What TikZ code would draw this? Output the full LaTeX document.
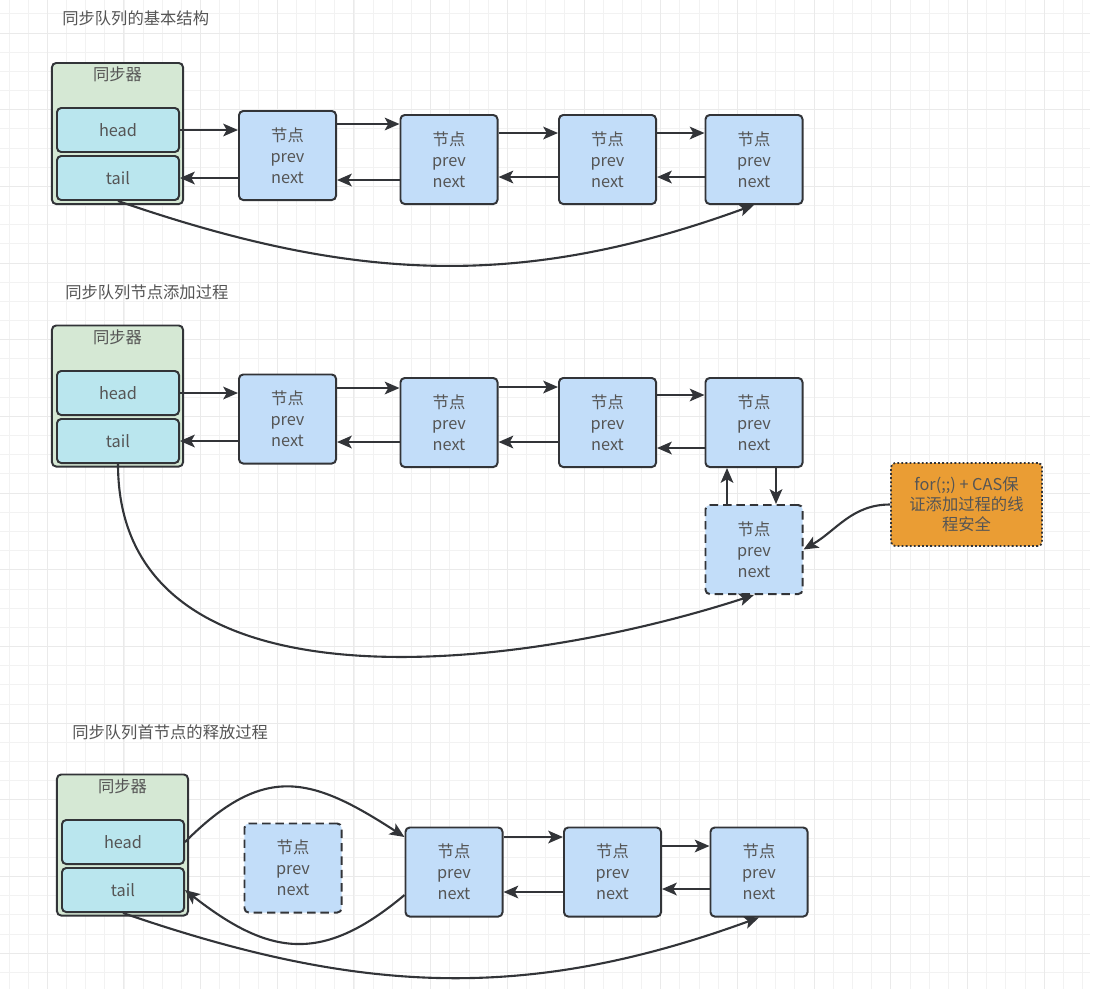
\documentclass[tikz,border=0pt]{standalone}
\usepackage{fontspec}
\setmainfont{Noto Sans CJK SC}
\usepackage{xcolor}
\usepackage{tikz}
\usetikzlibrary{arrows.meta, positioning, calc}
\definecolor{lineGray}{RGB}{50, 52, 56}
\definecolor{textGray}{RGB}{85, 85, 85}
\definecolor{syncGreen}{RGB}{213, 232, 212}
\definecolor{fieldCyan}{RGB}{186, 230, 238}
\definecolor{nodeBlue}{RGB}{194, 221, 249}
\definecolor{noteOrange}{RGB}{234, 157, 52}
\definecolor{gridMinor}{RGB}{242, 242, 242}
\definecolor{gridMajor}{RGB}{234, 234, 234}

\begin{document}
\begin{tikzpicture}[x=0.025cm, y=-0.025cm,
    font=\fontsize{11.6pt}{15pt}\selectfont, text=textGray,
    box/.style={draw=lineGray, line width=1.4pt, rounded corners=3pt, align=center, inner sep=0pt},
    sync/.style={box, fill=syncGreen, minimum width=3.275cm, minimum height=3.525cm},
    field/.style={box, fill=fieldCyan, minimum width=3.05cm, minimum height=1.1cm},
    qnode/.style={box, fill=nodeBlue, minimum width=2.425cm, minimum height=2.225cm},
    newnode/.style={qnode, dash pattern=on 6pt off 3.5pt},
    note/.style={box, fill=noteOrange, dash pattern=on 1.3pt off 1.6pt, line width=1.3pt,
        minimum width=3.775cm, minimum height=2.075cm, font=\fontsize{11.6pt}{14.2pt}\selectfont},
    link/.style={draw=lineGray, line width=1.5pt, -{Stealth[length=10.5pt, width=9pt, inset=2.5pt]}},
    heading/.style={anchor=west, inner sep=0pt}]

    \useasboundingbox (0,0) rectangle (1098,989);

    % Background grid
    \foreach \i in {0,...,56} {
        \draw[gridMinor, line width=0.7pt] ({9+19.17*\i},0) -- ({9+19.17*\i},989);
    }
    \foreach \i in {0,...,50} {
        \draw[gridMinor, line width=0.7pt] (0,{13.9+19.17*\i}) -- (1090,{13.9+19.17*\i});
    }
    \foreach \i in {0,...,13} {
        \draw[gridMajor, line width=0.7pt] ({47.3+76.67*\i},0) -- ({47.3+76.67*\i},989);
    }
    \foreach \i in {0,...,12} {
        \draw[gridMajor, line width=0.7pt] (0,{33.1+76.67*\i}) -- (1090,{33.1+76.67*\i});
    }

    % ---------- Basic structure ----------
    \node[heading] (t1) at (62,18) {同步队列的基本结构};
    \node[sync] (g1) at (117.5,133.5) {};
    \node[below=0pt of g1.north] (g1t) {同步器};
    \node[field] (h1) at (118,130) {head};
    \node[field] (tl1) at (118,178) {tail};
    \node[qnode] (n11) at (287.5,155.5) {节点\\prev\\next};
    \node[qnode] (n12) at (449,159.5) {节点\\prev\\next};
    \node[qnode] (n13) at (607.5,159.5) {节点\\prev\\next};
    \node[qnode] (n14) at (754,159.5) {节点\\prev\\next};

    \draw[link] (h1.east) -- (h1.east -| n11.west);
    \draw[link] (tl1.east -| n11.west) -- (tl1.east);
    \draw[link] ($(n11.east)+(0,-31.5)$) coordinate (p) -- (p -| n12.west);
    \draw[link] ($(n12.west)+(0,20.5)$) coordinate (p) -- (p -| n11.east);
    \draw[link] ($(n12.east)+(0,-26.5)$) coordinate (p) -- (p -| n13.west);
    \draw[link] ($(n13.west)+(0,17.5)$) coordinate (p) -- (p -| n12.east);
    \draw[link] ($(n13.east)+(0,-26.5)$) coordinate (p) -- (p -| n14.west);
    \draw[link] ($(n14.west)+(0,17.5)$) coordinate (p) -- (p -| n13.east);
    \draw[link] (tl1.south) to[out=-19, in=-160] (n14.south);

    % ---------- Adding a node ----------
    \node[heading] (t2) at (65,292) {同步队列节点添加过程};
    \node[sync] (g2) at (117.5,396) {};
    \node[below=0pt of g2.north] (g2t) {同步器};
    \node[field] (h2) at (118,393) {head};
    \node[field] (tl2) at (118,441) {tail};
    \node[qnode] (n21) at (287.5,419) {节点\\prev\\next};
    \node[qnode] (n22) at (449,422.5) {节点\\prev\\next};
    \node[qnode] (n23) at (607.5,422.5) {节点\\prev\\next};
    \node[qnode] (n24) at (754,422.5) {节点\\prev\\next};
    \node[newnode] (n25) at (754,549.5) {节点\\prev\\next};
    \node[note] (cas) at (966.5,504.5) {for(;;) + CAS保\\证添加过程的线\\程安全};

    \draw[link] (h2.east) -- (h2.east -| n21.west);
    \draw[link] (tl2.east -| n21.west) -- (tl2.east);
    \draw[link] ($(n21.east)+(0,-31)$) coordinate (p) -- (p -| n22.west);
    \draw[link] ($(n22.west)+(0,19.5)$) coordinate (p) -- (p -| n21.east);
    \draw[link] ($(n22.east)+(0,-35.5)$) coordinate (p) -- (p -| n23.west);
    \draw[link] ($(n23.west)+(0,19.5)$) coordinate (p) -- (p -| n22.east);
    \draw[link] ($(n23.east)+(0,-27.5)$) coordinate (p) -- (p -| n24.west);
    \draw[link] ($(n24.west)+(0,25.5)$) coordinate (p) -- (p -| n23.east);
    \draw[link] ($(n25.north)+(-27,0)$) coordinate (p) -- (p |- n24.south);
    \draw[link] ($(n24.south)+(22,0)$) coordinate (p) -- (p |- n25.north);
    \draw[link] (cas.west) to[out=180, in=30] (n25.east);
    \draw[link] (tl2.south) to[out=-90, in=-162] (n25.south);

    % ---------- Releasing the head ----------
    \node[heading] (t3) at (72,732) {同步队列首节点的释放过程};
    \node[sync] (g3) at (122.5,845) {};
    \node[below=0pt of g3.north] (g3t) {同步器};
    \node[field] (h3) at (123,842) {head};
    \node[field] (tl3) at (123,890) {tail};
    \node[newnode] (n30) at (293,868) {节点\\prev\\next};
    \node[qnode] (n31) at (454,872) {节点\\prev\\next};
    \node[qnode] (n32) at (612.5,872) {节点\\prev\\next};
    \node[qnode] (n33) at (759,872) {节点\\prev\\next};

    \draw[link] (h3.east) to[out=45, in=147, looseness=1.3] ($(n31.west)+(0,-35)$);
    \draw[link] ($(n31.west)+(0,23)$) to[out=-140, in=-38, looseness=1.25] (tl3.east);
    \draw[link] ($(n31.east)+(0,-35)$) coordinate (p) -- (p -| n32.west);
    \draw[link] ($(n32.west)+(0,20)$) coordinate (p) -- (p -| n31.east);
    \draw[link] ($(n32.east)+(0,-26)$) coordinate (p) -- (p -| n33.west);
    \draw[link] ($(n33.west)+(0,17)$) coordinate (p) -- (p -| n32.east);
    \draw[link] (tl3.south) to[out=-19, in=-160] (n33.south);
\end{tikzpicture}
\end{document}
